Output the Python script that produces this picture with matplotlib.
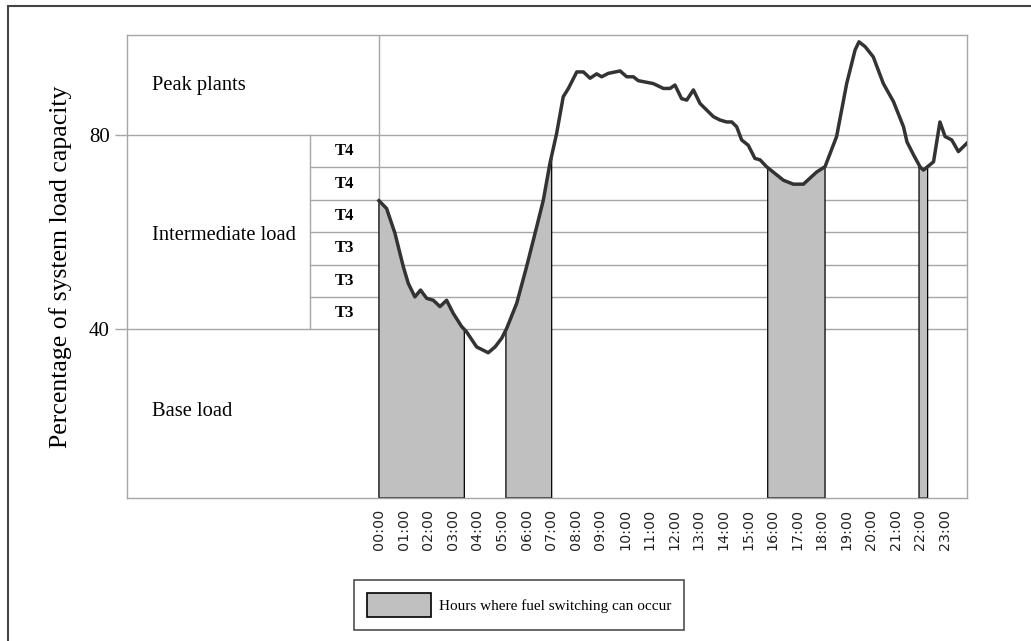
import numpy as np
import matplotlib
matplotlib.use("Agg")
import matplotlib.pyplot as plt
from matplotlib.patches import Rectangle, Patch

# ---- data ----
hours = [0.0, 0.31, 0.65, 0.99, 1.19, 1.46, 1.69, 1.94, 2.21, 2.48, 2.75, 3.02, 3.36, 3.56,
         3.97, 4.44, 4.72, 4.99, 5.19, 5.6, 6.0, 6.41, 6.68, 6.95, 7.22, 7.49, 7.7, 8.04,
         8.31, 8.58, 8.85, 9.05, 9.32, 9.8, 10.07, 10.34, 10.54, 11.15, 11.56, 11.83, 12.03,
         12.3, 12.51, 12.78, 13.05, 13.59, 13.86, 14.13, 14.34, 14.54, 14.74, 15.01, 15.28,
         15.49, 15.75, 16.44, 16.84, 17.25, 17.79, 18.13, 18.6, 19.01, 19.35, 19.51, 19.76,
         20.09, 20.5, 20.91, 21.32, 21.46, 21.73, 22.0, 22.13, 22.54, 22.8, 23.01, 23.28,
         23.55, 23.89]
load = [66.5, 64.9, 59.8, 52.9, 49.5, 46.7, 48.1, 46.4, 46.0, 44.7, 46.0, 43.3, 40.6, 39.5,
        36.4, 35.2, 36.4, 38.2, 40.2, 45.4, 52.9, 61.1, 66.6, 74.2, 80.3, 87.9, 89.6, 93.0,
        93.0, 91.7, 92.6, 92.0, 92.7, 93.2, 92.0, 92.0, 91.2, 90.6, 89.6, 89.6, 90.3,
        87.5, 87.2, 89.3, 86.5, 83.8, 83.1, 82.7, 82.7, 81.7, 79.0, 77.9, 75.2,
        74.9, 73.5, 70.7, 69.9, 69.9, 72.4, 73.5, 79.7, 90.6, 97.5, 99.2, 98.2,
        96.1, 90.6, 86.9, 81.7, 78.6, 75.9, 73.4, 72.8, 74.5, 82.7, 79.7, 79.0,
        76.6, 78.3]
switch_intervals = [(0.0, 3.47), (5.16, 7.02), (15.80, 18.13), (21.95, 22.30)]
tick_hours = list(range(24))
tick_labels = [f"{h:02d}:00" for h in tick_hours]
band_levels = [80, 73.33, 66.67, 60, 53.33, 46.67, 40]
band_labels = ["T4", "T4", "T4", "T3", "T3", "T3"]
zone_labels = [("Peak plants", 90.3), ("Intermediate load", 59.4), ("Base load", 23.2)]
ytick_vals = [40, 80]

GRAY = "#a6a6a6"
FILL = "#c0c0c0"
SERIF = "Liberation Serif"

fig = plt.figure(figsize=(10.31, 6.41), dpi=100)
ax = fig.add_axes([127/1031, 1-498/641, (967-127)/1031, (498-35)/641])
xmin, xmax = -10.24, 23.9
ymin, ymax = 5.3, 100.6
ax.set_xlim(xmin, xmax)
ax.set_ylim(ymin, ymax)

for s in ax.spines.values():
    s.set_color(GRAY)
    s.set_linewidth(1.0)

# grid structure
xsplit = -2.8
for lv in band_levels:
    if lv in (80, 40):
        ax.plot([xmin, xmax], [lv, lv], color=GRAY, lw=1.0, zorder=1)
    else:
        ax.plot([xsplit, xmax], [lv, lv], color=GRAY, lw=1.0, zorder=1)
ax.plot([0, 0], [ymin, ymax], color=GRAY, lw=1.0, zorder=1)
ax.plot([xsplit, xsplit], [40, 80], color=GRAY, lw=1.0, zorder=1)

# shaded regions
h = np.array(hours)
l = np.array(load)
for a, b in switch_intervals:
    mask = (h > a) & (h < b)
    xs = np.concatenate([[a], h[mask], [b]])
    ys = np.concatenate([[np.interp(a, h, l)], l[mask], [np.interp(b, h, l)]])
    poly_x = np.concatenate([[a], xs, [b]])
    poly_y = np.concatenate([[ymin], ys, [ymin]])
    ax.fill(poly_x, poly_y, facecolor=FILL, edgecolor="black", lw=0.9, zorder=2)

ax.plot(hours, load, color="#333333", lw=2.5, zorder=3, solid_joinstyle="round")

# labels
for i, lab in enumerate(band_labels):
    yc = (band_levels[i] + band_levels[i+1]) / 2
    ax.text(-1.4, yc, lab, ha="center", va="center", fontsize=12,
            fontweight="bold", family=SERIF)
for lab, yv in zone_labels:
    ax.text(-9.23, yv, lab, ha="left", va="center", fontsize=14.8, family=SERIF)

ax.set_yticks(ytick_vals)
ax.set_yticklabels([str(v) for v in ytick_vals], family=SERIF, fontsize=15)
ax.tick_params(axis="y", length=8.5, color=GRAY, width=1.0, pad=4)
ax.set_xticks(tick_hours)
ax.set_xticklabels(tick_labels, rotation=90, fontsize=10.3, family="DejaVu Sans", color="#222222")
ax.tick_params(axis="x", length=0, pad=8)
ax.set_ylabel("Percentage of system load capacity", family=SERIF, fontsize=18.5, labelpad=12)

# legend
handle = Patch(facecolor=FILL, edgecolor="black", lw=1.2)
leg = fig.legend([handle], ["Hours where fuel switching can occur"],
                 loc="center", bbox_to_anchor=(519/1031, 1-605/641),
                 prop={"family": SERIF, "size": 11}, frameon=True, fancybox=False,
                 handlelength=4.25, handleheight=2.14, handletextpad=0.5,
                 borderpad=0.8, borderaxespad=0)
leg.get_frame().set_edgecolor("#222222")
leg.get_frame().set_linewidth(1.2)

# figure border (left and top visible)
fig.patches.append(Rectangle((8/1031, -0.2), 1.2, 1-6/641 + 0.2, transform=fig.transFigure,
                             fill=False, edgecolor="#444444", lw=1.5))

fig.savefig("out.png", dpi=100)
